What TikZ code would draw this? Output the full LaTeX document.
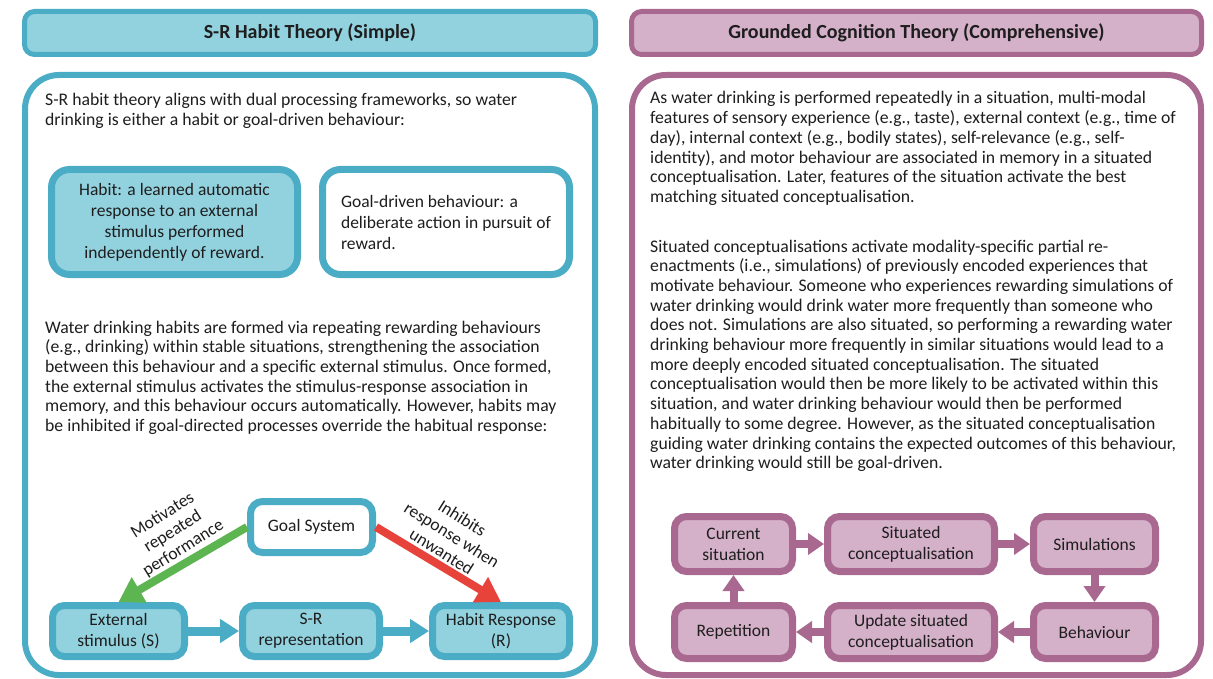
\documentclass[tikz,border=0pt]{standalone}
\usepackage{fontspec}
\setmainfont{Carlito}
\usetikzlibrary{arrows.meta}
\definecolor{tealB}{HTML}{4BACC6}
\definecolor{tealF}{HTML}{92D2DF}
\definecolor{purB}{HTML}{A8688F}
\definecolor{purF}{HTML}{D5B0C9}
\definecolor{txt}{HTML}{1E1E1E}
\definecolor{grn}{HTML}{5CB551}
\definecolor{rd}{HTML}{E8433A}
\begin{document}
\begin{tikzpicture}[x=1pt,y=-1pt,
  font=\fontsize{17.7}{19.7}\selectfont, text=txt,
  hdr/.style={draw=#1, line width=5pt, rounded corners=10pt, inner sep=0pt, font=\fontsize{20}{22}\selectfont\bfseries},
  mainbox/.style={draw=#1, line width=6pt, rounded corners=34pt, fill=white, inner sep=0pt},
  tbox/.style={draw=#1, line width=7pt, rounded corners=18pt, inner sep=0pt, font=\fontsize{17.5}{21}\selectfont},
  fbox/.style={draw=#1, line width=7pt, rounded corners=12pt, inner sep=0pt, align=center, font=\fontsize{17.5}{21}\selectfont},
  para/.style={align=left, inner sep=0pt, anchor=base west},
  lab/.style={align=center, inner sep=0pt, font=\fontsize{17.5}{19.5}\selectfont},
  tarrow/.style={draw=tealB, line width=9pt, -{Triangle[length=19pt,width=23pt]}},
  parrow/.style={draw=purB, line width=8pt, -{Triangle[length=16pt,width=21pt]}},
  darrow/.style={draw=#1, line width=8pt, -{Triangle[length=24pt,width=28pt]}}
]
\useasboundingbox (0,0) rectangle (1213,679);
% ---------- left panel ----------
\node[hdr=tealB, fill=tealF, minimum width=571pt, minimum height=43pt] (h1) at (310,33) {S-R Habit Theory (Simple)};
\node[mainbox=tealB, minimum width=570pt, minimum height=600pt] (m1) at (310,375) {};
% base anchor = baseline of last line
\node[para] (t1) at (45,125.7) {S-R habit theory aligns with dual processing frameworks, so water\\drinking is either a habit or goal-driven behaviour:};
\node[tbox=tealB, fill=tealF, minimum width=246pt, minimum height=105pt, align=center] (habit) at (174.5,222) {Habit: a learned automatic\\response to an external\\stimulus performed\\independently of reward.};
\node[tbox=tealB, fill=white, minimum width=247pt, minimum height=105pt, align=left] (goal) at (446,222) {Goal-driven behaviour: a\\deliberate action in pursuit of\\reward.};
\node[para] (t2) at (45,431.5) {Water drinking habits are formed via repeating rewarding behaviours\\(e.g., drinking) within stable situations, strengthening the association\\between this behaviour and a specific external stimulus. Once formed,\\the external stimulus activates the stimulus-response association in\\memory, and this behaviour occurs automatically. However, habits may\\be inhibited if goal-directed processes override the habitual response:};
\node[fbox=tealB, fill=white, minimum width=122pt, minimum height=51pt] (gs) at (311.5,527) {Goal System};
\node[fbox=tealB, fill=tealF, minimum width=132pt, minimum height=51pt] (ext) at (118.5,631) {External\\stimulus (S)};
\node[fbox=tealB, fill=tealF, minimum width=137pt, minimum height=51pt] (sr) at (311,631) {S-R\\representation};
\node[fbox=tealB, fill=tealF, minimum width=137pt, minimum height=51pt] (hr) at (501,631) {Habit Response\\(R)};
\draw[tarrow] (ext) -- (sr);
\draw[tarrow] (sr) -- (hr);
\draw[darrow=grn] (gs.west) -- (ext.north);
\draw[darrow=rd] (gs.east) -- (hr.north);
\node[lab, rotate=32] (l1) at (173,532) {Motivates\\repeated\\performance};
\node[lab, rotate=-32] (l2) at (452,535) {Inhibits\\response when\\unwanted};
% ---------- right panel ----------
\node[hdr=purB, fill=purF, minimum width=570pt, minimum height=43pt] (h2) at (916.5,33) {Grounded Cognition Theory (Comprehensive)};
\node[mainbox=purB, minimum width=569pt, minimum height=600pt] (m2) at (916.5,375) {};
\node[para] (t3) at (650,202.5) {As water drinking is performed repeatedly in a situation, multi-modal\\features of sensory experience (e.g., taste), external context (e.g., time of\\day), internal context (e.g., bodily states), self-relevance (e.g., self-\\identity), and motor behaviour are associated in memory in a situated\\conceptualisation. Later, features of the situation activate the best\\matching situated conceptualisation.};
\node[para] (t4) at (650,468.7) {Situated conceptualisations activate modality-specific partial re-\\enactments (i.e., simulations) of previously encoded experiences that\\motivate behaviour. Someone who experiences rewarding simulations of\\water drinking would drink water more frequently than someone who\\does not. Simulations are also situated, so performing a rewarding water\\drinking behaviour more frequently in similar situations would lead to a\\more deeply encoded situated conceptualisation. The situated\\conceptualisation would then be more likely to be activated within this\\situation, and water drinking behaviour would then be performed\\habitually to some degree. However, as the situated conceptualisation\\guiding water drinking contains the expected outcomes of this behaviour,\\water drinking would still be goal-driven.};
\node[fbox=purB, fill=purF, minimum width=118pt, minimum height=55pt] (cur) at (733.5,544) {Current\\situation};
\node[fbox=purB, fill=purF, minimum width=167pt, minimum height=55pt] (sit) at (911,544) {Situated\\conceptualisation};
\node[fbox=purB, fill=purF, minimum width=122pt, minimum height=55pt] (sim) at (1094.5,544) {Simulations};
\node[fbox=purB, fill=purF, minimum width=118pt, minimum height=53pt] (rep) at (733.5,632) {Repetition};
\node[fbox=purB, fill=purF, minimum width=167pt, minimum height=53pt] (upd) at (911,632) {Update situated\\conceptualisation};
\node[fbox=purB, fill=purF, minimum width=122pt, minimum height=53pt] (beh) at (1094.5,632) {Behaviour};
\draw[parrow] (cur) -- (sit);
\draw[parrow] (sit) -- (sim);
\draw[parrow] (sim) -- (beh);
\draw[parrow] (beh) -- (upd);
\draw[parrow] (upd) -- (rep);
\draw[parrow] (rep) -- (cur);
\end{tikzpicture}
\end{document}
